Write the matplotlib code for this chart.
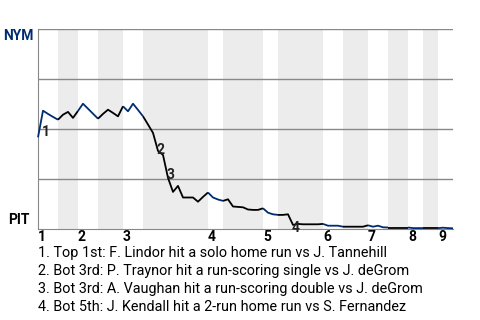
import numpy as np
import matplotlib
matplotlib.use("Agg")
import matplotlib.pyplot as plt

plt.rcParams['font.family'] = ['Roboto', 'DejaVu Sans']

# NYM win probability (%) after each play, play 0 = first pitch
nym_wp = [45.6, 58.9, 57.3, 55.8, 54.4, 56.9, 58.3, 55.3, 58.8, 62.4,
          59.9, 57.4, 54.9, 57.3, 59.4, 57.8, 56.1, 61.1, 58.6, 62.4,
          59.3, 56.1, 52.0, 47.8, 38.8, 36.8, 25.3, 18.3, 21.3, 15.5,
          15.5, 15.5, 13.4, 15.8, 18.0, 15.5, 14.5, 13.8, 14.6, 11.0,
          10.8, 10.6, 9.5, 9.3, 9.3, 10.1, 7.9, 7.1, 6.8, 6.8,
          7.1, 1.8, 2.3, 2.1, 2.1, 2.1, 2.1, 2.3, 1.4, 1.4,
          1.4, 0.9, 0.9, 0.9, 0.9, 0.9, 1.6, 0.9, 1.4, 0.6,
          0.5, 0.5, 0.5, 0.5, 0.5, 0.2, 0.2, 0.2, 0.2, 0.2,
          0.2, 0.4, 0.2, 0.1]

# play index where each half inning ends (top 1st, bot 1st, ...)
half_bounds = [0, 4, 8, 12, 17, 21, 34, 37, 45, 48, 57, 61, 66, 70, 74, 77, 80, 83]
innings = ['1', '2', '3', '4', '5', '6', '7', '8', '9']

event_plays = [1, 24, 26, 51]
event_texts = [
    "1. Top 1st: F. Lindor hit a solo home run vs J. Tannehill",
    "2. Bot 3rd: P. Traynor hit a run-scoring single vs J. deGrom",
    "3. Bot 3rd: A. Vaughan hit a run-scoring double vs J. deGrom",
    "4. Bot 5th: J. Kendall hit a 2-run home run vs S. Fernandez",
]

NYM_BLUE = '#002d72'
GRID = '#888888'

x = np.arange(len(nym_wp))
y = np.array(nym_wp)

fig = plt.figure(figsize=(4.8, 3.2), dpi=100)
ax = fig.add_axes([38 / 480, 1 - 228.5 / 320, 415 / 480, 200 / 320])

# shade bottom halves, color line by batting team
for i in range(len(half_bounds) - 1):
    s, e = half_bounds[i], half_bounds[i + 1]
    if i % 2 == 1:
        ax.axvspan(s, e, color='#ececec', lw=0, zorder=0)
    color = NYM_BLUE if i % 2 == 0 else 'black'
    ax.plot(x[s:e + 1], y[s:e + 1], color=color, lw=1.3, zorder=3,
            solid_capstyle='butt', clip_on=False)

for g in [25, 50, 75, 100]:
    ax.axhline(g, color=GRID, lw=1, zorder=1)

for k, p in enumerate(event_plays):
    mx = (x[p - 1] + x[p]) / 2
    my = (y[p - 1] + y[p]) / 2
    ax.annotate(str(k + 1), (mx, my), xytext=(1, -1), textcoords='offset points',
                ha='left', va='top', fontsize=10, fontweight='bold', color='#222222',
                zorder=4, annotation_clip=False)

ax.set_xlim(0, 83)
ax.set_ylim(0, 100)
ax.set_xticks(half_bounds[0::2][:len(innings)])
ax.set_xticklabels(innings, fontsize=10, fontweight='bold', ha='left')
ax.tick_params(axis='x', length=0, pad=1)
ax.set_yticks([])
for side in ['top', 'right']:
    ax.spines[side].set_visible(False)
ax.spines['left'].set_color(GRID)
ax.spines['bottom'].set_color(GRID)

ax.text(-0.01, 1.0, 'NYM', transform=ax.transAxes, ha='right', va='top',
        fontsize=10, fontweight='bold', color=NYM_BLUE)
ax.text(-0.02, 0.01, 'PIT', transform=ax.transAxes, ha='right', va='bottom',
        fontsize=10, fontweight='bold', color='black')

for k, t in enumerate(event_texts):
    fig.text(38 / 480, 1 - (253 + 18 * k) / 320, t, ha='left', va='center',
             fontsize=10.4, color='black')

fig.savefig('out.png', dpi=100)
